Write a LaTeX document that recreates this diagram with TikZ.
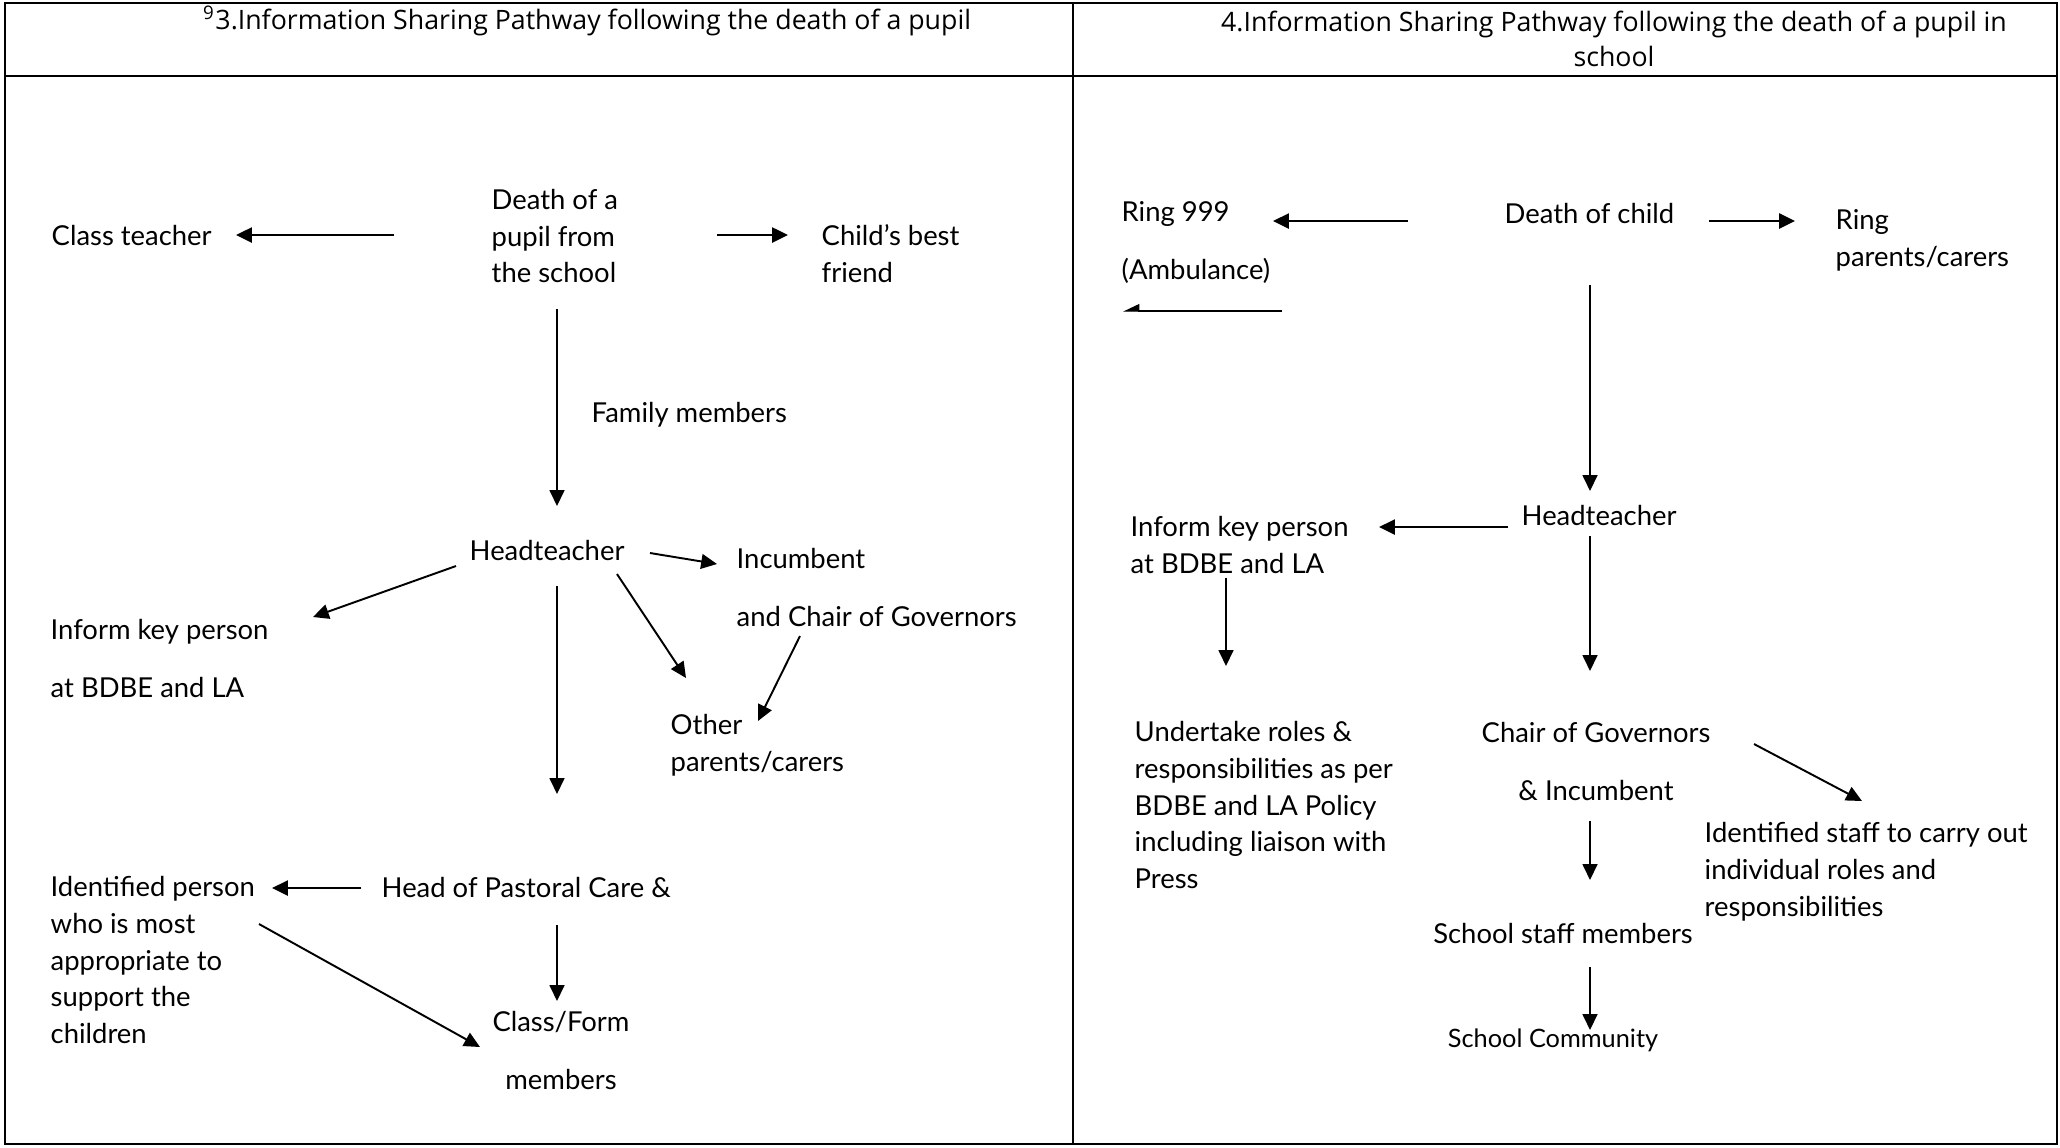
\documentclass[tikz,border=0pt]{standalone}
\usepackage{fontspec}
\setmainfont{Lato}
\newfontfamily\titlefont{Open Sans}
\usepackage{tikz}
\usetikzlibrary{arrows.meta}
\tikzstyle{txt} = [inner sep=0pt,align=left,anchor=west,font=\fontsize{7.8}{10.5}\selectfont]
\tikzstyle{ctxt} = [inner sep=0pt,align=center,font=\fontsize{7.8}{10.5}\selectfont]
\tikzstyle{ttl} = [inner sep=0pt,align=center,font=\titlefont\fontsize{7.6}{10.1}\selectfont]
\tikzstyle{arrow} = [line width=0.55pt,-{Triangle[length=4.5pt,width=4.2pt]}]
\tikzstyle{arrowbold} = [arrow,line width=0.8pt]
\tikzstyle{frame} = [line width=0.6pt]

\begin{document}
\begin{tikzpicture}[x=0.01cm,y=-0.01cm]
                        \useasboundingbox (0,0) rectangle (2060,1147);
                        \draw[frame] (5,3) rectangle (2057,1144);
                        \draw[frame] (5,76) -- (2057,76);
                        \draw[frame] (1073,3) -- (1073,1144);
                        \node[ttl] (title1) at (587,21) {\textsuperscript{9}3.Information Sharing Pathway following the death of a pupil};
                        \node[ttl] (title2) at (1614,39) {4.Information Sharing Pathway following the death of a pupil in\\school};

                        \node[txt] (death1) at (491,236) {Death of a\\pupil from\\the school};
                        \node[txt] (classt) at (51,235) {Class teacher};
                        \node[txt] (friend) at (821,254) {Child’s best\\friend};
                        \node[txt] (family) at (591,415) {Family members};
                        \node[txt] (head1) at (469,550) {Headteacher};
                        \node[txt] (incumb) at (736,558) {Incumbent};
                        \node[txt] (chair1) at (736,616) {and Chair of Governors};
                        \node[txt] (inform1) at (50,658) {Inform key person\\[6pt]at BDBE and LA};
                        \node[txt] (other) at (670,745) {Other\\parents/carers};
                        \node[txt] (pastoral) at (381,887) {Head of Pastoral Care \&};
                        \node[txt] (ident) at (50,960) {Identified person\\who is most\\appropriate to\\support the\\children};
                        \node[ctxt] (classf) at (561,1050) {Class/Form\\[6pt]members};

                        \draw[arrowbold] ([shift={(-97,-1)}]death1.west) -- ([shift={(185,0)}]classt.west);
                        \draw[arrowbold] ([shift={(226,-1)}]death1.west) -- ([shift={(-33,-19)}]friend.west);
                        \draw[arrow] ([shift={(66,73)}]death1.west) -- ([shift={(88,-44)}]head1.west);
                        \draw[arrow] ([shift={(181,3)}]head1.west) -- ([shift={(-19,6)}]incumb.west);
                        \draw[arrow] ([shift={(-13,16)}]head1.west) -- ([shift={(263,-41)}]inform1.west);
                        \draw[arrow] ([shift={(148,24)}]head1.west) -- ([shift={(16,-67)}]other.west);
                        \draw[arrow] ([shift={(64,20)}]chair1.west) -- ([shift={(88,-24)}]other.west);
                        \draw[arrow] ([shift={(88,36)}]head1.west) -- ([shift={(176,-93)}]pastoral.west);
                        \draw[arrowbold] ([shift={(-20,1)}]pastoral.west) -- ([shift={(222,-72)}]ident.west);
                        \draw[arrow] ([shift={(176,38)}]pastoral.west) -- ([shift={(-4,-49)}]classf.center);
                        \draw[arrow] ([shift={(209,-36)}]ident.west) -- ([shift={(-81,-3)}]classf.center);

                        \node[txt] (death2) at (1504,213) {Death of child};
                        \node[txt] (ring999) at (1121,242) {Ring 999\\[6pt](Ambulance)};
                        \node[txt] (ringpar) at (1835,240) {Ring\\parents/carers};
                        \node[txt] (head2) at (1521,515) {Headteacher};
                        \node[txt] (inform2) at (1130,545) {Inform key person\\at BDBE and LA};
                        \node[txt] (undert) at (1134,805) {Undertake roles \&\\responsibilities as per\\BDBE and LA Policy\\including liaison with\\Press};
                        \node[ctxt] (chair2) at (1596,761) {Chair of Governors\\[6pt]\& Incumbent};
                        \node[txt] (idstaff) at (1704,872) {Identified staff to carry out\\individual roles and\\responsibilities};
                        \node[ctxt] (staff) at (1563,933) {School staff members};
                        \node[ctxt,font=\fontsize{7.2}{9}\selectfont] (commun) at (1553,1040) {School Community};
                        \coordinate (ambA) at (1282,311);
                        \coordinate (ambB) at (1123,311);

                        \draw[arrowbold] ([shift={(-96,8)}]death2.west) -- ([shift={(152,-21)}]ring999.west);
                        \draw[line width=0.35pt,-{Triangle[right,length=4.3pt,width=4pt]}] (ambA) -- (ambB);
                        \draw[arrowbold] ([shift={(205,8)}]death2.west) -- ([shift={(-40,-19)}]ringpar.west);
                        \draw[arrow] ([shift={(86,72)}]death2.west) -- ([shift={(69,-24)}]head2.west);
                        \draw[arrowbold] ([shift={(-13,12)}]head2.west) -- ([shift={(249,-18)}]inform2.west);
                        \draw[arrow] ([shift={(96,33)}]inform2.west) -- ([shift={(92,-139)}]undert.west);
                        \draw[arrow] ([shift={(69,21)}]head2.west) -- ([shift={(-6,-90)}]chair2.center);
                        \draw[arrow] ([shift={(158,-17)}]chair2.center) -- ([shift={(158,-71)}]idstaff.west);
                        \draw[arrow] ([shift={(-6,60)}]chair2.center) -- ([shift={(27,-53)}]staff.center);
                        \draw[arrow] ([shift={(27,34)}]staff.center) -- ([shift={(37,-10)}]commun.center);
                    \end{tikzpicture}
\end{document}
